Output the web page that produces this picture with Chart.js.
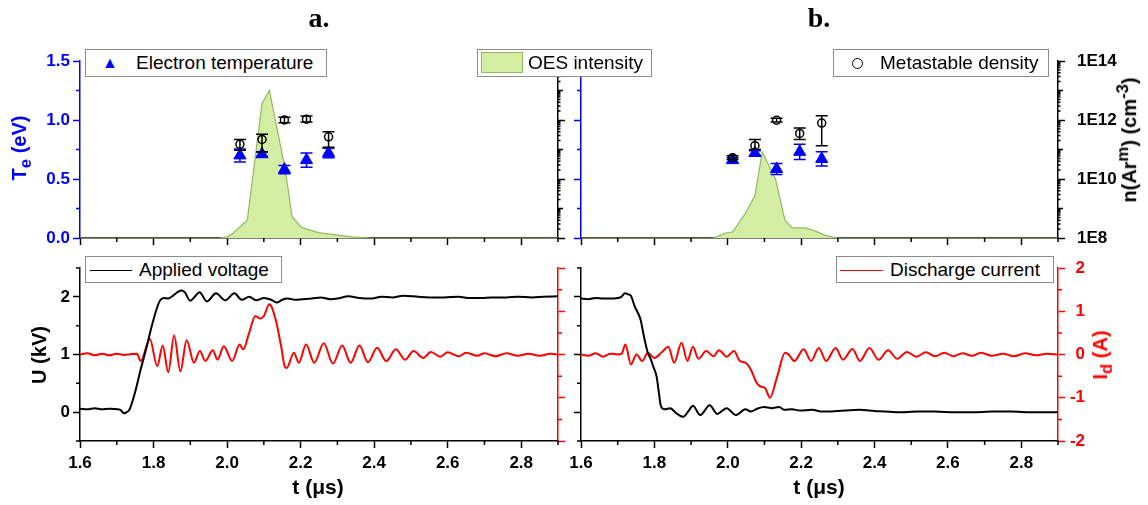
<!DOCTYPE html>
<html>
<head>
<meta charset="utf-8">
<script src="https://cdn.jsdelivr.net/npm/chart.js@4.4.1/dist/chart.umd.min.js"></script>
<style>
html, body { margin: 0; padding: 0; background: #fff; overflow: hidden; }
#wrap { position: relative; width: 1148px; height: 505px; font-family: "Liberation Sans", Arial, sans-serif; }
canvas { position: absolute; left: 0; top: 0; }
.ttl { position: absolute; font-family: "Liberation Serif", "Times New Roman", serif; font-weight: bold; font-size: 28px; transform: translate(-50%, -50%); }
.axt { position: absolute; font-weight: bold; font-size: 20px; white-space: nowrap; transform: translate(-50%, -50%) rotate(-90deg); }
.xt { position: absolute; font-weight: bold; font-size: 21px; white-space: nowrap; transform: translate(-50%, -50%); }
.leg { position: absolute; box-sizing: border-box; border: 1px solid #8c8c8c; background: #fff; font-size: 19px; }
.leg span { position: absolute; top: 50%; transform: translateY(-50%); white-space: nowrap; }
.leg i { position: absolute; top: 50%; }
</style>
</head>
<body>
<div id="wrap">
  <canvas id="ta" width="1148" height="505"></canvas>
  <canvas id="tb" width="1148" height="505"></canvas>
  <canvas id="ba" width="1148" height="505"></canvas>
  <canvas id="bb" width="1148" height="505"></canvas>

  <div class="ttl" style="left:319px;top:18px;">a.</div>
  <div class="ttl" style="left:819px;top:18px;">b.</div>

  <div class="axt" style="left:22px;top:148px;color:#0000ff;">T<sub>e</sub> (eV)</div>
  <div class="axt" style="left:39px;top:355px;">U (kV)</div>
  <div class="axt" style="left:1127px;top:140px;">n(Ar<sup>m</sup>) (cm<sup>-3</sup>)</div>
  <div class="axt" style="left:1103px;top:355px;color:#ff0000;">I<sub>d</sub> (A)</div>
  <div class="xt" style="left:318px;top:487px;">t (&mu;s)</div>
  <div class="xt" style="left:819px;top:487px;">t (&mu;s)</div>

  <div class="leg" style="left:85px;top:49px;width:242px;height:28px;">
    <span style="left:16px;color:#0000ff;font-size:16px;">&#9650;</span>
    <span style="left:50px;">Electron temperature</span>
  </div>
  <div class="leg" style="left:477px;top:49px;width:175px;height:28px;">
    <i style="left:3px;width:42px;height:21px;margin-top:-11px;background:#d3eda2;border:1px solid #93b964;box-sizing:border-box;"></i>
    <span style="left:50px;">OES intensity</span>
  </div>
  <div class="leg" style="left:833px;top:49px;width:216px;height:28px;">
    <i style="left:18px;width:9px;height:9px;margin-top:-5px;border:1.5px solid #000;border-radius:50%;"></i>
    <span style="left:46px;">Metastable density</span>
  </div>
  <div class="leg" style="left:85px;top:256px;width:197px;height:27px;">
    <i style="left:4px;width:42px;height:0;border-top:1.5px solid #000;"></i>
    <span style="left:53px;">Applied voltage</span>
  </div>
  <div class="leg" style="left:836px;top:256px;width:218px;height:27px;">
    <i style="left:3px;width:43px;height:0;border-top:1.5px solid #ff0000;"></i>
    <span style="left:53px;">Discharge current</span>
  </div>
</div>

<script>
// axis ticks
const tTicks = [1.6, 1.8, 2.0, 2.2, 2.4, 2.6, 2.8];
const tMinor = [1.7, 1.9, 2.1, 2.3, 2.5, 2.7, 2.9];
const teTicks = [0, 0.5, 1.0, 1.5];
const teMinor = [0.25, 0.75, 1.25];
const uTicks = [0, 1, 2];
const uMinor = [-0.5, 0.5, 1.5, 2.5];
const iTicks = [-2, -1, 0, 1, 2];
const iMinor = [-1.5, -0.5, 0.5, 1.5];
const nTicks = [1e8, 1e10, 1e12, 1e14];
const nMinor = [1e9, 1e11, 1e13];

// a. probe measurements
const tProbeA = [2.035, 2.095, 2.156, 2.216, 2.276];
const teA = [0.70, 0.71, 0.58, 0.66, 0.72];
const teErrA = [0.055, 0.02, 0.035, 0.06, 0.04];
const nA = [1.5e11, 2.2e11, 1.0e12, 1.07e12, 2.7e11];
const nLowA = [9.5e10, 8.3e10, 8.0e11, 8.5e11, 1.2e11];
const nHighA = [2.2e11, 3.3e11, 1.25e12, 1.37e12, 4.0e11];

// b. probe measurements
const tProbeB = [2.013, 2.074, 2.133, 2.196, 2.256];
const teB = [0.66, 0.72, 0.585, 0.73, 0.67];
const teErrB = [0.02, 0.02, 0.047, 0.065, 0.06];
const nB = [5.3e10, 1.35e11, 9.8e11, 3.5e11, 7.9e11];
const nLowB = [4.6e10, 1.0e11, 8.5e11, 2.2e11, 1.35e11];
const nHighB = [6.1e10, 2.2e11, 1.15e12, 5.4e11, 1.4e12];

// OES intensity (arb. units, drawn on the Te scale)
const oesTA = [1.60, 1.98, 2.00, 2.016, 2.055, 2.095, 2.115, 2.157, 2.177, 2.202, 2.248, 2.338, 2.39, 2.90];
const oesA = [0, 0, 0.01, 0.04, 0.15, 1.14, 1.25, 0.6, 0.18, 0.09, 0.045, 0.01, 0, 0];
const oesTB = [1.60, 1.96, 1.992, 2.014, 2.05, 2.074, 2.094, 2.13, 2.156, 2.176, 2.212, 2.237, 2.268, 2.30, 2.90];
const oesB = [0, 0, 0.04, 0.053, 0.22, 0.36, 0.73, 0.5, 0.15, 0.085, 0.085, 0.06, 0.02, 0, 0];

// applied voltage (kV)
const tVoltA = [1.60,1.62,1.64,1.66,1.68,1.70,1.71,1.72,1.727,1.735,1.75,1.765,1.78,1.795,1.81,1.818,1.828,1.84,1.855,1.865,1.875,1.885,1.90,1.912,1.925,1.945,1.97,1.995,2.02,2.04,2.06,2.08,2.10,2.12,2.135,2.15,2.165,2.185,2.205,2.23,2.255,2.28,2.30,2.33,2.36,2.39,2.42,2.45,2.48,2.52,2.55,2.59,2.63,2.66,2.69,2.72,2.76,2.79,2.83,2.86,2.90];
const voltA = [0.06,0.05,0.07,0.05,0.06,0.05,0.04,-0.02,0.0,0.05,0.35,0.74,1.1,1.49,1.82,1.94,1.98,1.97,2.03,2.08,2.11,2.08,1.93,2.0,2.08,1.92,2.06,1.94,2.06,1.95,2.0,1.94,1.98,1.95,1.90,1.95,1.97,1.95,1.96,1.97,1.99,1.96,1.97,2.01,1.98,1.97,2.0,1.99,2.02,2.0,1.99,1.99,2.0,1.98,1.98,1.99,1.99,2.0,1.99,2.0,2.01];
const tVoltB = [1.60,1.62,1.64,1.66,1.68,1.70,1.71,1.72,1.73,1.736,1.746,1.762,1.772,1.782,1.79,1.797,1.806,1.812,1.818,1.828,1.843,1.86,1.879,1.893,1.905,1.925,1.951,1.971,1.997,2.022,2.048,2.063,2.08,2.099,2.12,2.14,2.155,2.175,2.196,2.23,2.258,2.30,2.36,2.40,2.46,2.52,2.565,2.62,2.667,2.72,2.77,2.83,2.90];
const voltB = [1.97,1.96,1.98,1.97,1.97,1.98,2.0,2.06,2.04,2.02,1.84,1.61,1.3,1.03,0.92,0.79,0.62,0.35,0.10,0.05,0.07,-0.02,-0.08,0.02,0.11,-0.05,0.12,-0.03,0.07,-0.05,0.05,0.01,0.06,0.09,0.07,0.09,0.04,0.05,0.03,0.04,0.01,0.02,0.04,0.02,0.0,0.01,0.01,0.0,0.0,0.01,0.01,0.0,0.0];

// discharge current (A)
const tCurA = [1.60,1.62,1.64,1.66,1.68,1.70,1.72,1.74,1.755,1.765,1.79,1.81,1.825,1.84,1.856,1.873,1.89,1.91,1.926,1.941,1.961,1.974,1.991,2.014,2.034,2.044,2.06,2.077,2.09,2.10,2.115,2.132,2.147,2.157,2.162,2.182,2.195,2.215,2.237,2.263,2.288,2.313,2.336,2.36,2.383,2.408,2.433,2.459,2.484,2.507,2.534,2.554,2.58,2.60,2.63,2.65,2.68,2.70,2.73,2.76,2.79,2.82,2.85,2.88,2.90];
const curA = [0,0.03,-0.02,0.02,-0.02,0.02,-0.01,0.01,0.02,-0.15,0.36,-0.27,0.21,-0.41,0.44,-0.39,0.33,-0.19,0.08,-0.15,0.10,-0.12,0.19,-0.15,0.23,0.12,0.50,0.89,0.83,0.89,1.16,0.81,0.19,-0.28,-0.31,0.04,-0.19,0.23,-0.19,0.26,-0.21,0.21,-0.19,0.21,-0.18,0.155,-0.155,0.12,-0.12,0.08,-0.08,0.06,-0.05,0.05,-0.04,0.04,-0.03,0.03,-0.04,0.03,-0.03,0.02,-0.03,0.02,0.0];
const tCurB = [1.60,1.62,1.64,1.66,1.68,1.70,1.711,1.721,1.736,1.751,1.767,1.782,1.80,1.82,1.838,1.854,1.874,1.89,1.905,1.92,1.941,1.961,1.976,1.997,2.017,2.033,2.048,2.063,2.079,2.089,2.102,2.115,2.135,2.156,2.166,2.181,2.207,2.227,2.248,2.268,2.294,2.314,2.34,2.36,2.386,2.411,2.437,2.462,2.488,2.514,2.54,2.565,2.59,2.615,2.64,2.665,2.69,2.72,2.75,2.78,2.81,2.84,2.87,2.90];
const curB = [0,-0.03,0.03,-0.05,0.02,0.0,0.02,0.23,-0.23,0.0,-0.15,0.04,-0.08,0.05,0.18,-0.19,0.27,-0.15,0.18,-0.1,0.08,-0.04,0.1,-0.05,0.08,-0.15,-0.19,-0.35,-0.66,-0.74,-0.78,-1.0,-0.5,0.04,0.0,-0.15,0.12,-0.15,0.15,-0.15,0.15,-0.12,0.13,-0.15,0.15,-0.12,0.1,-0.1,0.06,-0.05,0.05,-0.04,0.04,-0.04,0.03,-0.03,0.04,-0.03,0.02,-0.04,0.03,-0.02,0.02,0.0];

const W = 1148, H = 505;
const BLUE = '#0000ff', RED = '#ff0000', BLACK = '#000000';
const FONT = '"Liberation Sans", Arial, sans-serif';

function pts(xs, ys) {
    return xs.map((x, i) => ({ x: x, y: ys[i] }));
}

// o.size = fixed thickness of the axis box (labels are clipped to it)
function axis(o) {
    return {
        type: o.type || 'linear',
        position: o.position,
        min: o.min,
        max: o.max,
        afterBuildTicks: s => { s.ticks = o.ticks.map(v => ({ value: v })); },
        afterFit: s => {
            if (s.isHorizontal()) s.height = o.size;
            else s.width = o.size;
        },
        grid: { drawOnChartArea: false, drawTicks: true, tickLength: 7, tickColor: o.color, tickWidth: 1.5 },
        border: { display: true, color: o.color, width: 1.5 },
        ticks: {
            display: !!o.labels,
            color: o.color,
            autoSkip: false,
            maxRotation: 0,
            padding: o.padding || 3,
            crossAlign: o.crossAlign || 'near',
            font: { family: FONT, size: 17, weight: 'bold' },
            callback: o.fmt || (v => v)
        }
    };
}

// minor tick marks, drawn against the chart's own scales
function minorTicks(list) {
    return {
        id: 'minorTicks',
        afterDraw(chart) {
            const ctx = chart.ctx;
            list.forEach(m => {
                const s = chart.scales[m.axis];
                ctx.save();
                ctx.strokeStyle = m.color;
                ctx.lineWidth = 1.5;
                ctx.beginPath();
                m.values.forEach(v => {
                    const p = s.getPixelForValue(v);
                    if (s.isHorizontal()) {
                        ctx.moveTo(p, s.top); ctx.lineTo(p, s.top + m.len);
                    } else if (s.position === 'left') {
                        ctx.moveTo(s.right, p); ctx.lineTo(s.right - m.len, p);
                    } else {
                        ctx.moveTo(s.left, p); ctx.lineTo(s.left + m.len, p);
                    }
                });
                ctx.stroke();
                ctx.restore();
            });
        }
    };
}

// vertical error bars with caps, drawn just under their markers
const errorBars = {
    id: 'errorBars',
    beforeDatasetDraw(chart, args) {
        const ds = chart.data.datasets[args.index];
        if (!ds.errLo) return;
        const ys = chart.scales[ds.yAxisID];
        const ctx = chart.ctx;
        ctx.save();
        ctx.strokeStyle = ds.borderColor;
        ctx.lineWidth = 1.5;
        ctx.beginPath();
        args.meta.data.forEach((pt, i) => {
            const lo = ys.getPixelForValue(ds.errLo[i]);
            const hi = ys.getPixelForValue(ds.errHi[i]);
            ctx.moveTo(pt.x, lo); ctx.lineTo(pt.x, hi);
            ctx.moveTo(pt.x - 6, lo); ctx.lineTo(pt.x + 6, lo);
            ctx.moveTo(pt.x - 6, hi); ctx.lineTo(pt.x + 6, hi);
        });
        ctx.stroke();
        ctx.restore();
    }
};

// area = [left, top, right, bottom] of the plot region in page pixels
function makeChart(id, area, scales, sizes, datasets, minor) {
    return new Chart(document.getElementById(id), {
        type: 'line',
        data: { datasets: datasets },
        options: {
            responsive: false,
            animation: false,
            events: [],
            layout: {
                padding: {
                    left: area[0] - sizes.left,
                    top: area[1],
                    right: W - area[2] - sizes.right,
                    bottom: H - area[3] - sizes.bottom
                }
            },
            plugins: { legend: { display: false }, tooltip: { enabled: false } },
            scales: scales
        },
        plugins: [errorBars, minorTicks(minor)]
    });
}

function topDatasets(tp, te, teErr, n, nLo, nHi, oesT, oes) {
    return [
        {
            data: pts(tp, n), yAxisID: 'y2', showLine: false, order: 1,
            pointStyle: 'circle', pointRadius: 4, pointBorderWidth: 1.5,
            borderColor: BLACK, pointBorderColor: BLACK, pointBackgroundColor: 'rgba(0,0,0,0)',
            errLo: nLo, errHi: nHi
        },
        {
            data: pts(tp, te), yAxisID: 'y', showLine: false, order: 2,
            pointStyle: 'triangle', pointRadius: 7, pointBorderWidth: 1,
            borderColor: BLUE, pointBorderColor: BLUE, pointBackgroundColor: BLUE,
            errLo: te.map((v, i) => v - teErr[i]), errHi: te.map((v, i) => v + teErr[i])
        },
        {
            data: pts(oesT, oes), yAxisID: 'y', order: 3, pointRadius: 0,
            borderColor: '#93b964', borderWidth: 1.2, backgroundColor: '#d3eda2',
            fill: 'origin', tension: 0
        }
    ];
}

function bottomDatasets(tv, v, tc, c) {
    return [
        { data: pts(tv, v), yAxisID: 'y', order: 1, pointRadius: 0, borderColor: BLACK, borderWidth: 2, cubicInterpolationMode: 'monotone' },
        { data: pts(tc, c), yAxisID: 'y2', order: 2, pointRadius: 0, borderColor: RED, borderWidth: 2, cubicInterpolationMode: 'monotone' }
    ];
}

const tFmt = v => v.toFixed(1);
const nFmt = v => '1E' + Math.round(Math.log10(v));
const logSmall = [];
[8, 9, 10, 11, 12, 13].forEach(e => { for (let k = 2; k <= 9; k++) logSmall.push(k * Math.pow(10, e)); });

// a. top
makeChart('ta', [80, 61, 558, 238], {
    x: axis({ position: 'bottom', min: 1.6, max: 2.9, ticks: tTicks, color: BLACK, size: 12 }),
    y: axis({ position: 'left', min: 0, max: 1.5, ticks: teTicks, color: BLUE, labels: true, fmt: tFmt, size: 50 }),
    y2: axis({ type: 'logarithmic', position: 'right', min: 1e8, max: 1e14, ticks: nTicks, color: BLACK, size: 12 })
}, { left: 50, right: 12, bottom: 12 },
topDatasets(tProbeA, teA, teErrA, nA, nLowA, nHighA, oesTA, oesA), [
    { axis: 'x', values: tMinor, len: 4, color: BLACK },
    { axis: 'y', values: teMinor, len: 4, color: BLUE },
    { axis: 'y2', values: nMinor, len: 5, color: BLACK },
    { axis: 'y2', values: logSmall, len: 2.5, color: BLACK }
]);

// b. top
makeChart('tb', [581, 61, 1058, 238], {
    x: axis({ position: 'bottom', min: 1.6, max: 2.9, ticks: tTicks, color: BLACK, size: 12 }),
    y: axis({ position: 'left', min: 0, max: 1.5, ticks: teTicks, color: BLUE, size: 12 }),
    y2: axis({ type: 'logarithmic', position: 'right', min: 1e8, max: 1e14, ticks: nTicks, color: BLACK, labels: true, padding: 12, fmt: nFmt, size: 70 })
}, { left: 12, right: 70, bottom: 12 },
topDatasets(tProbeB, teB, teErrB, nB, nLowB, nHighB, oesTB, oesB), [
    { axis: 'x', values: tMinor, len: 4, color: BLACK },
    { axis: 'y', values: teMinor, len: 4, color: BLUE },
    { axis: 'y2', values: nMinor, len: 5, color: BLACK },
    { axis: 'y2', values: logSmall, len: 2.5, color: BLACK }
]);

// a. bottom
makeChart('ba', [80, 268, 558, 441], {
    x: axis({ position: 'bottom', min: 1.6, max: 2.9, ticks: tTicks, color: BLACK, labels: true, padding: 5, fmt: tFmt, size: 34 }),
    y: axis({ position: 'left', min: -0.5, max: 2.5, ticks: uTicks, color: BLACK, labels: true, size: 50 }),
    y2: axis({ position: 'right', min: -2, max: 2, ticks: iTicks, color: RED, size: 12 })
}, { left: 50, right: 12, bottom: 34 },
bottomDatasets(tVoltA, voltA, tCurA, curA), [
    { axis: 'x', values: tMinor, len: 4, color: BLACK },
    { axis: 'y', values: uMinor, len: 4, color: BLACK },
    { axis: 'y2', values: iMinor, len: 4, color: RED }
]);

// b. bottom
makeChart('bb', [581, 268, 1058, 441], {
    x: axis({ position: 'bottom', min: 1.6, max: 2.9, ticks: tTicks, color: BLACK, labels: true, padding: 5, fmt: tFmt, size: 34 }),
    y: axis({ position: 'left', min: -0.5, max: 2.5, ticks: uTicks, color: BLACK, size: 12 }),
    y2: axis({ position: 'right', min: -2, max: 2, ticks: iTicks, color: RED, labels: true, crossAlign: 'far', size: 27 })
}, { left: 12, right: 27, bottom: 34 },
bottomDatasets(tVoltB, voltB, tCurB, curB), [
    { axis: 'x', values: tMinor, len: 4, color: BLACK },
    { axis: 'y', values: uMinor, len: 4, color: BLACK },
    { axis: 'y2', values: iMinor, len: 4, color: RED }
]);
</script>
</body>
</html>
